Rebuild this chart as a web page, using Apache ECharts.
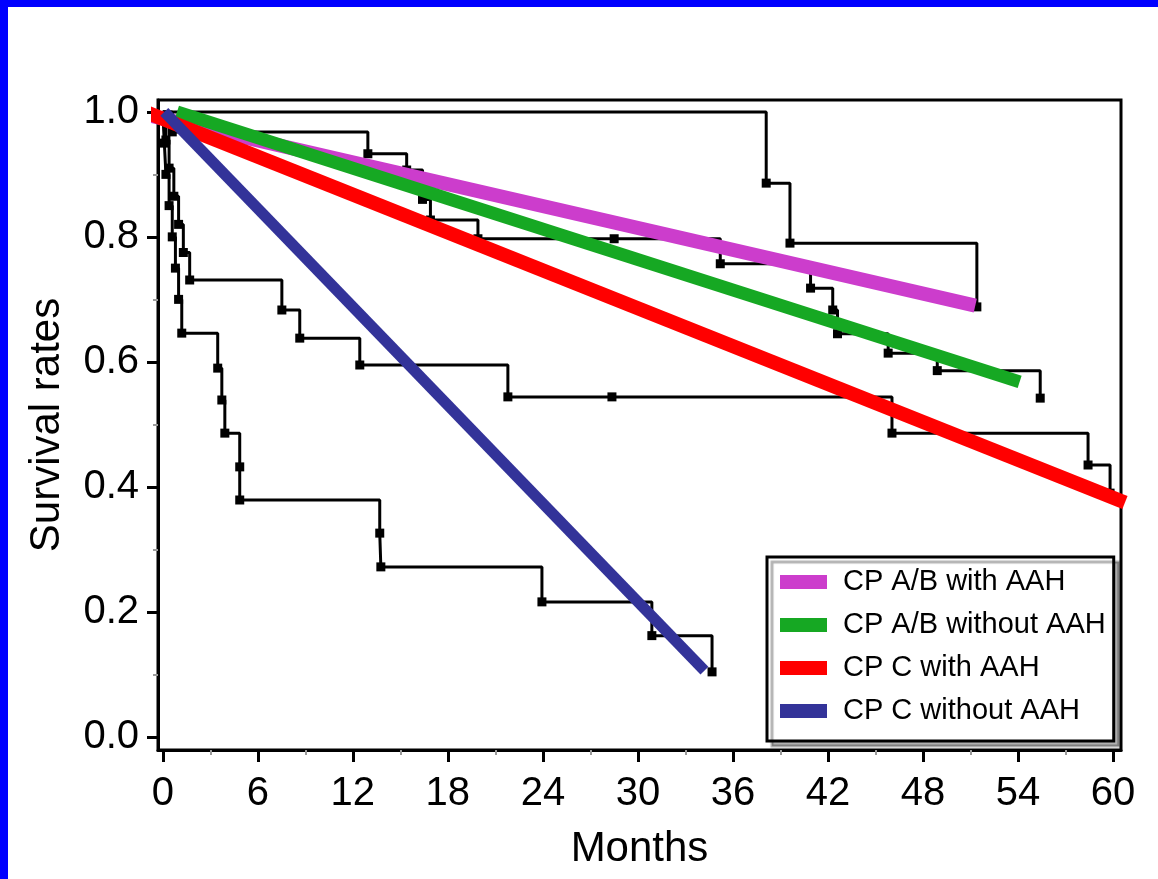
<!DOCTYPE html>
<html><head><meta charset="utf-8">
<script src="https://cdn.jsdelivr.net/npm/echarts@6/dist/echarts.min.js"></script>
<style>
html,body{margin:0;padding:0;background:#fff;}
#chart{position:absolute;left:0;top:0;width:1158px;height:879px;}
.edge{position:absolute;background:#0000ff;}
</style></head><body>
<div id="chart"></div>
<div class="edge" style="left:0;top:0;width:1158px;height:7px"></div>
<div class="edge" style="left:0;top:0;width:8px;height:879px"></div>
<script>
// ---- tick labels ----
const monthTicks = [0, 6, 12, 18, 24, 30, 36, 42, 48, 54, 60];
const monthMinorTicks = [3, 9, 15, 21, 27, 33, 39, 45, 51, 57];
const survTicks = [0, 0.2, 0.4, 0.6, 0.8, 1.0];
const survMinorTicks = [0.1, 0.3, 0.5, 0.7, 0.9];

// ---- legend / series names ----
const groupNames = ['CP A/B with AAH', 'CP A/B without AAH', 'CP C with AAH', 'CP C without AAH'];
const groupColors = ['#cc3dcc', '#16a823', '#ff0000', '#333399'];

// ---- Kaplan-Meier step curves (months, survival) ----
const km1Months = [0, 38.1, 39.6, 51.4];
const km1Surv   = [1.0, 0.886, 0.79, 0.688];

const km2Months = [0, 0.6, 12.95, 15.4, 16.4, 16.9, 19.9, 28.5, 35.2, 40.9, 42.3, 42.6, 45.8, 48.9, 55.4];
const km2Surv   = [1.0, 0.968, 0.933, 0.907, 0.86, 0.827, 0.797, 0.797, 0.757, 0.718, 0.683, 0.645, 0.614, 0.586, 0.542];

const km3Months = [0, 0.2, 0.4, 0.7, 1.0, 1.3, 1.7, 7.52, 8.65, 12.44, 21.79, 28.36, 46.04, 58.42, 59.81];
const km3Surv   = [1.0, 0.955, 0.91, 0.865, 0.82, 0.775, 0.731, 0.683, 0.638, 0.595, 0.544, 0.544, 0.486, 0.435, 0.39];

const km4Months = [0, 0.1, 0.2, 0.4, 0.6, 0.8, 1.0, 1.2, 3.47, 3.73, 3.92, 4.86, 4.86, 13.7, 13.77, 23.94, 30.88, 34.68];
const km4Surv   = [1.0, 0.95, 0.90, 0.85, 0.80, 0.75, 0.70, 0.646, 0.59, 0.539, 0.486, 0.432, 0.379, 0.326, 0.272, 0.216, 0.162, 0.104];

// ---- straight trend lines (start, end) ----
const magentaMonths = [-1.0, 51.3];
const magentaSurv   = [0.995, 0.69];
const greenMonths   = [0.9, 54.1];
const greenSurv     = [1.0, 0.568];
const redMonths     = [-1.1, 60.75];
const redSurv       = [1.0, 0.375];
const blueMonths    = [0.1, 34.2];
const blueSurv      = [1.0, 0.106];

const FONT = '"Liberation Sans", Arial, Helvetica, sans-serif';

function kmSeries(name, months, surv) {
  return {
    name: name, type: 'line', step: 'end',
    data: months.map((m, i) => i === 0 ? { value: [m, surv[i]], symbol: 'none' } : [m, surv[i]]),
    symbol: 'rect', symbolSize: 9, showSymbol: true,
    itemStyle: { color: '#000' },
    lineStyle: { color: '#000', width: 3 },
    z: 2, silent: true, animation: false
  };
}
function trendSeries(name, color, width, months, surv) {
  return {
    name: name, type: 'line', clip: false,
    data: months.map((m, i) => [m, surv[i]]),
    symbol: 'none',
    itemStyle: { color: color },
    lineStyle: { color: color, width: width, cap: 'butt' },
    z: 3, silent: true, animation: false
  };
}

const chart = echarts.init(document.getElementById('chart'), null, { renderer: 'canvas' });
chart.setOption({
  animation: false,
  backgroundColor: '#fff',
  grid: { left: 158, right: 37, top: 100, bottom: 129, show: true, borderColor: '#000', borderWidth: 3, backgroundColor: 'transparent' },
  xAxis: [{
    type: 'value', min: -0.3, max: 60.5,
    axisLine: { show: true, onZero: false, lineStyle: { color: '#000', width: 3 } },
    axisTick: { show: true, customValues: monthTicks, length: 12, lineStyle: { color: '#000', width: 3 } },
    axisLabel: { customValues: monthTicks, formatter: v => String(Math.round(v)), fontSize: 40, color: '#000', margin: 24, fontFamily: FONT },
    splitLine: { show: false },
    name: 'Months', nameLocation: 'middle', nameGap: 78,
    nameTextStyle: { fontSize: 42, color: '#000', fontFamily: FONT }
  }, {
    type: 'value', min: -0.3, max: 60.5, position: 'bottom',
    axisLine: { show: false, onZero: false },
    axisTick: { show: true, customValues: monthMinorTicks, length: 5, lineStyle: { color: '#999', width: 2 } },
    axisLabel: { show: false }, splitLine: { show: false }
  }],
  yAxis: [{
    type: 'value', min: -0.021, max: 1.019,
    axisLine: { show: true, onZero: false, lineStyle: { color: '#000', width: 3 } },
    axisTick: { show: true, customValues: survTicks, length: 11, lineStyle: { color: '#000', width: 3 } },
    axisLabel: { customValues: survTicks, formatter: v => v.toFixed(1), fontSize: 40, color: '#000', margin: 19, fontFamily: FONT },
    splitLine: { show: false },
    name: 'Survival rates', nameLocation: 'middle', nameGap: 90,
    nameTextStyle: { fontSize: 42, color: '#000', fontFamily: FONT }
  }, {
    type: 'value', min: -0.021, max: 1.019, position: 'left',
    axisLine: { show: false, onZero: false },
    axisTick: { show: true, customValues: survMinorTicks, length: 5, lineStyle: { color: '#999', width: 2 } },
    axisLabel: { show: false }, splitLine: { show: false }
  }],
  legend: {
    data: groupNames,
    orient: 'vertical', left: 767, top: 557,
    padding: [10, 8, 15, 13],
    itemWidth: 47, itemHeight: 14, itemGap: 13,
    icon: 'rect',
    backgroundColor: '#fff', borderColor: '#000', borderWidth: 3,
    shadowColor: 'rgba(0,0,0,0.3)', shadowBlur: 1, shadowOffsetX: 5, shadowOffsetY: 5,
    textStyle: { fontSize: 29, lineHeight: 30, color: '#000', fontFamily: FONT, padding: [0, 0, 0, 11] },
    selectedMode: false
  },
  series: [
    kmSeries('km1', km1Months, km1Surv),
    kmSeries('km2', km2Months, km2Surv),
    kmSeries('km3', km3Months, km3Surv),
    kmSeries('km4', km4Months, km4Surv),
    trendSeries(groupNames[0], groupColors[0], 14, magentaMonths, magentaSurv),
    trendSeries(groupNames[1], groupColors[1], 13, greenMonths, greenSurv),
    trendSeries(groupNames[2], groupColors[2], 14, redMonths, redSurv),
    trendSeries(groupNames[3], groupColors[3], 11, blueMonths, blueSurv)
  ]
});
</script></body></html>
